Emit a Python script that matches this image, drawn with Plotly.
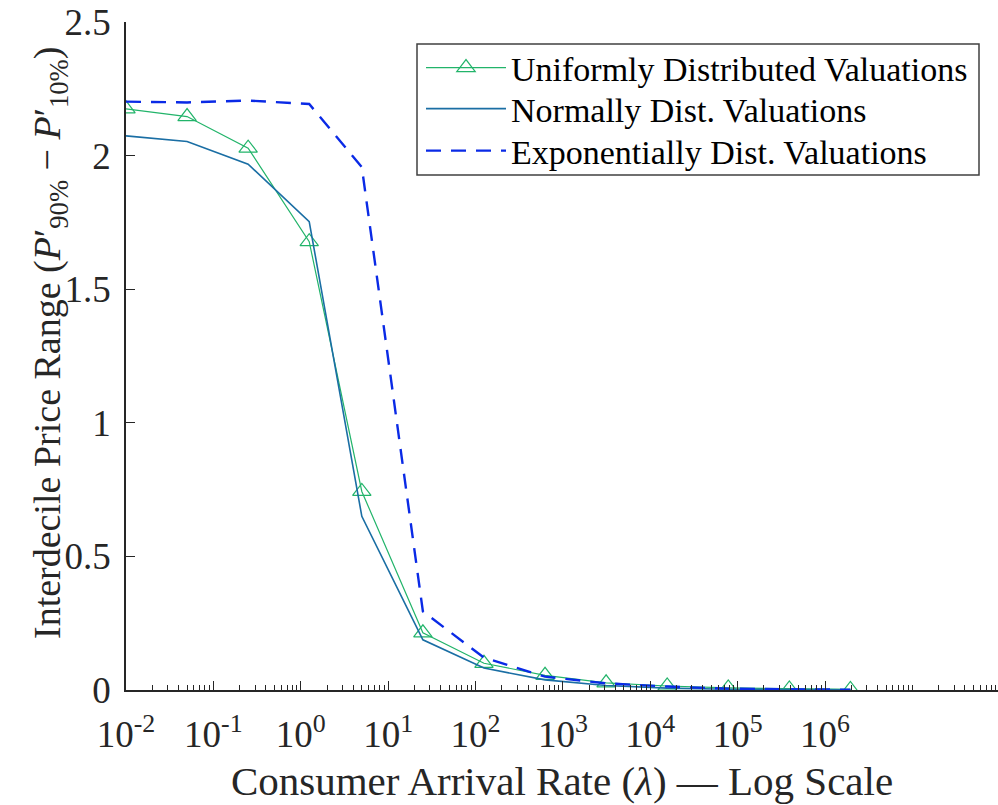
import plotly.graph_objects as go

# ---- data ----
arrival_rate = [0.01, 0.05, 0.25, 1.25, 5, 25, 125, 625, 3125, 15625, 78125, 390625, 1953125]
uniform_vals = [2.175, 2.146, 2.028, 1.678, 0.743, 0.214, 0.100, 0.055, 0.027, 0.015, 0.008, 0.004, 0.002]
normal_vals = [2.074, 2.053, 1.968, 1.753, 0.650, 0.188, 0.082, 0.038, 0.017, 0.007, 0.003, 0.001, 0.0005]
expon_vals = [2.202, 2.199, 2.206, 2.193, 1.957, 0.294, 0.121, 0.050, 0.025, 0.013, 0.005, 0.002, 0.001]

x_tick_vals = [1e-2, 1e-1, 1e0, 1e1, 1e2, 1e3, 1e4, 1e5, 1e6]
x_tick_text = ["10<sup>-2</sup>", "10<sup>-1</sup>", "10<sup>0</sup>", "10<sup>1</sup>", "10<sup>2</sup>",
               "10<sup>3</sup>", "10<sup>4</sup>", "10<sup>5</sup>", "10<sup>6</sup>"]
x_minor_vals = [m * 10.0 ** k for k in range(-2, 8) for m in range(2, 10)] + [1e7]
y_tick_vals = [0, 0.5, 1, 1.5, 2, 2.5]
y_tick_text = ["0", "0.5", "1", "1.5", "2", "2.5"]

FONT = "Liberation Serif, Times New Roman, serif"
AX = "#262626"

# plot area in pixels (for converting reference pixel positions to paper coords)
W, H = 998, 805
L, R, T, B = 126, 0, 22, 115
PW, PH = W - L - R, H - T - B


def px_x(p):
    return (p - L) / PW


def px_y(p):
    return (H - B - p) / PH


fig = go.Figure()
fig.add_trace(go.Scatter(
    x=arrival_rate, y=uniform_vals, mode="lines+markers",
    name="Uniformly Distributed Valuations", legend="legend",
    line=dict(color="#22b46a", width=1.2),
    marker=dict(symbol="triangle-up-open", size=16, color="#22b46a", line=dict(width=1.2)),
))
fig.add_trace(go.Scatter(
    x=arrival_rate, y=normal_vals, mode="lines",
    name="Normally Dist. Valuations", legend="legend2",
    line=dict(color="#1a6ea4", width=1.6),
))
fig.add_trace(go.Scatter(
    x=arrival_rate, y=expon_vals, mode="lines",
    name="Exponentially Dist. Valuations", legend="legend3",
    line=dict(color="#0a2ae6", width=2.4, dash="15px,10px"),
))

leg_common = dict(
    xanchor="left", yanchor="middle", bgcolor="rgba(0,0,0,0)", borderwidth=0,
    font=dict(family=FONT, size=34, color="black"), itemwidth=80,
)

fig.update_layout(
    width=W, height=H,
    margin=dict(l=L, r=R, t=T, b=B),
    paper_bgcolor="white", plot_bgcolor="white",
    font=dict(family=FONT, color="black"),
    showlegend=True,
    legend=dict(x=px_x(421), y=px_y(68), **leg_common),
    legend2=dict(x=px_x(421), y=px_y(109), **leg_common),
    legend3=dict(x=px_x(421), y=px_y(151), **leg_common),
    shapes=[dict(type="rect", xref="paper", yref="paper",
                 x0=px_x(417), x1=px_x(979), y0=px_y(175), y1=px_y(44),
                 line=dict(color="#404040", width=1.5), fillcolor="rgba(0,0,0,0)", layer="below")],
    annotations=[dict(
        text="Interdecile Price Range (<i>P</i>′<sub>90%</sub> − <i>P</i>′<sub>10%</sub>)",
        xref="paper", yref="paper", x=px_x(50), y=px_y(343), xanchor="center", yanchor="middle",
        textangle=-90, showarrow=False, font=dict(family=FONT, size=38, color=AX),
    )],
)
fig.update_xaxes(
    type="log", range=[-2, 7.98],
    showline=True, linecolor=AX, linewidth=1.5, mirror=False,
    showgrid=False, zeroline=False,
    ticks="inside", ticklen=9, tickwidth=1.2, tickcolor=AX,
    tickmode="array", tickvals=x_tick_vals, ticktext=x_tick_text,
    tickfont=dict(family=FONT, size=37, color=AX),
    ticklabelstandoff=11,
    minor=dict(tickmode="array", tickvals=x_minor_vals, ticks="inside", ticklen=5,
               tickwidth=1.2, tickcolor=AX, showgrid=False),
    title=dict(text="Consumer Arrival Rate (<i>λ</i>) — Log Scale",
               font=dict(family=FONT, size=41, color=AX), standoff=12),
)
fig.update_yaxes(
    range=[0, 2.5],
    showline=True, linecolor=AX, linewidth=1.5, mirror=False,
    showgrid=False, zeroline=False,
    ticks="inside", ticklen=9, tickwidth=1.2, tickcolor=AX,
    tickmode="array", tickvals=y_tick_vals, ticktext=y_tick_text,
    tickfont=dict(family=FONT, size=37, color=AX),
    ticklabelstandoff=6,
)

fig.write_html("out.html")
